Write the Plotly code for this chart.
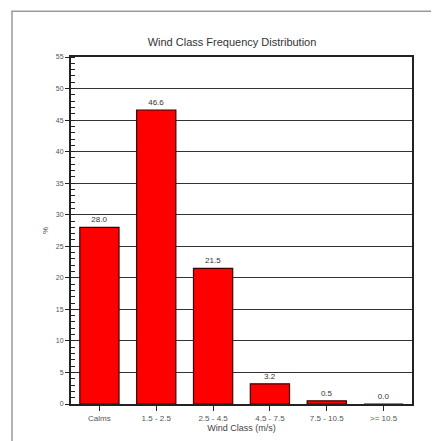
import plotly.graph_objects as go

categories = ["Calms", "1.5 - 2.5", "2.5 - 4.5", "4.5 - 7.5", "7.5 - 10.5", ">= 10.5"]
values = [28.0, 46.6, 21.5, 3.2, 0.5, 0.0]
y_ticks = [0, 5, 10, 15, 20, 25, 30, 35, 40, 45, 50, 55]

# page body has an 8px default margin, so the figure is sized to fit the window
W, H = 431, 433
OFF = 8

fig = go.Figure()
fig.add_trace(go.Bar(
    x=categories, y=values,
    marker=dict(color="#ff0000", line=dict(color="#3a0000", width=1.2)),
    width=0.69,
    text=[f"{v:.1f}" for v in values],
    textposition="outside",
    textfont=dict(size=8, color="#333333", family="Liberation Sans"),
    cliponaxis=False,
))

fig.update_layout(
    width=W, height=H,
    margin=dict(l=71 - OFF, r=27, t=57 - OFF, b=35),
    paper_bgcolor="white", plot_bgcolor="white",
    showlegend=False,
    font=dict(family="Liberation Sans", size=8, color="#444444"),
    title=dict(text="Wind Class Frequency Distribution", x=(232 - OFF) / W, xanchor="center",
               y=1 - (42 - OFF) / H, yanchor="middle",
               font=dict(size=11, color="#333333", family="Liberation Sans")),
    bargap=0.31,
)
fig.update_xaxes(
    type="category", showgrid=False, showline=True, linecolor="#222222", linewidth=2,
    mirror=True, ticks="outside", ticklen=5, tickcolor="#222222",
    tickfont=dict(size=8, color="#555555"),
    title=dict(text="Wind Class (m/s)", font=dict(size=9, color="#444444"), standoff=0),
)
fig.update_yaxes(
    range=[0, 55], tickvals=y_ticks, showgrid=True, gridcolor="#333333", gridwidth=1.2,
    showline=True, linecolor="#222222", linewidth=2, mirror=True,
    ticks="outside", ticklen=4, tickcolor="#222222",
    minor=dict(dtick=1, ticks="inside", ticklen=4, tickcolor="#222222", showgrid=False),
    tickfont=dict(size=7, color="#555555"),
    title=dict(text="%", font=dict(size=8, color="#444444"), standoff=6),
    zeroline=False,
)

# outer frame
fig.add_shape(type="rect", xref="paper", yref="paper",
              x0=(12 - 71) / 341, x1=(445 - 71) / 341,
              y0=(406 - 445) / 349, y1=(406 - 11) / 349,
              line=dict(color="#999999", width=1.5), layer="below")

fig.write_html("out.html")
